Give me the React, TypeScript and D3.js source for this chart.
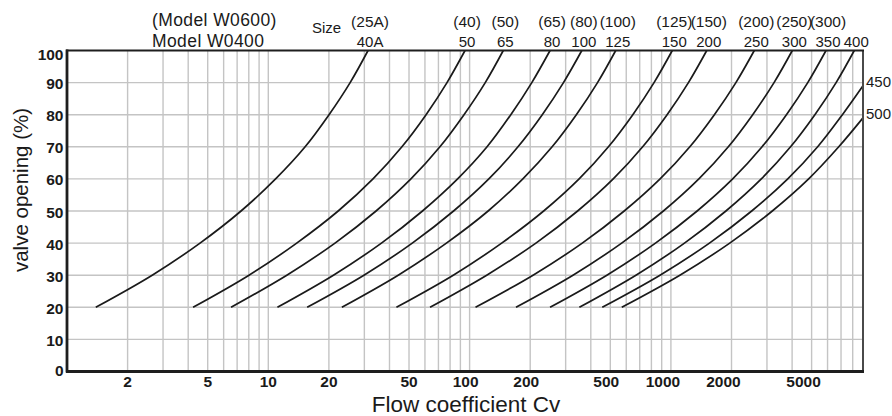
import React from "react";
import * as d3 from "d3";

// valve opening (%) at which each Cv value was read
const openings = [20, 30, 40, 50, 60, 70, 80, 90, 100];
const openings450 = [20, 30, 40, 50, 60, 70, 80, 89];
const openings500 = [20, 30, 40, 50, 60, 70, 79];

// size labels (Model W0400 / Model W0600)
const sizeW0400 = ["40A", "50", "65", "80", "100", "125", "150", "200", "250", "300", "350", "400", "450", "500"];
const sizeW0600 = ["(25A)", "(40)", "(50)", "(65)", "(80)", "(100)", "(125)", "(150)", "(200)", "(250)", "(300)", "", "", ""];

// Cv values
const cv40A = [1.39, 2.65, 4.58, 7.32, 10.87, 15.24, 20.03, 25.5, 31.3];
const cv50 = [4.23, 8.02, 13.84, 22.24, 33.12, 46.11, 60.77, 77.21, 94.9];
const cv65 = [6.53, 12.36, 21.45, 34.3, 51.11, 71.22, 93.79, 119.6, 147];
const cv80 = [11.1, 21.06, 36.48, 58.33, 87.2, 122.1, 160.2, 203.7, 251];
const cv100 = [15.6, 29.86, 51.9, 83.24, 124.6, 173.9, 229.6, 292.6, 361];
const cv125 = [23.2, 44.19, 76.71, 123.6, 183.9, 257.0, 339.0, 432.0, 532];
const cv150 = [43.3, 82.94, 144.3, 233.3, 350.0, 489.5, 646.8, 824.5, 1016];
const cv200 = [63.6, 121.6, 213.5, 344.0, 517.0, 724.0, 957.5, 1222, 1507];
const cv250 = [107, 206.6, 362.8, 586.2, 883.8, 1242, 1644, 2103, 2596];
const cv300 = [170, 326.2, 569.4, 917.4, 1377, 1929, 2549, 3253, 4010];
const cv350 = [251, 480.7, 838.3, 1350, 2027, 2837, 3749, 4784, 5895];
const cv400 = [351, 670.3, 1168, 1876, 2813, 3931, 5190, 6617, 8147];
const cv450 = [456, 882.9, 1554, 2520, 3807, 5359, 7111, 9000];
const cv500 = [570, 1108, 1960, 3189, 4834, 6821, 9000];

const xTickValues = [2, 5, 10, 20, 50, 100, 200, 500, 1000, 2000, 5000];
const yTickValues = [0, 10, 20, 30, 40, 50, 60, 70, 80, 90, 100];
const xGridValues = [
  2, 3, 4, 5, 6, 7, 8, 9, 10,
  20, 30, 40, 50, 60, 70, 80, 90, 100,
  200, 300, 400, 500, 600, 700, 800, 900, 1000,
  2000, 3000, 4000, 5000, 6000, 7000, 8000,
];

const seriesCv = [cv40A, cv50, cv65, cv80, cv100, cv125, cv150, cv200, cv250, cv300, cv350, cv400, cv450, cv500];
const seriesOpen = [openings, openings, openings, openings, openings, openings, openings, openings, openings, openings, openings, openings, openings450, openings500];

const W = 892;
const H = 416;
const L = 67, R = 863, T = 50.5, B = 371.5;

const NARROW = "'Liberation Sans Narrow', 'Arial Narrow', 'Liberation Sans', Arial, sans-serif";
const REG = "'Liberation Sans', Arial, Helvetica, sans-serif";

export default function App() {
  const x = d3.scaleLog().domain([1, 9000]).range([L, R]);
  const y = d3.scaleLinear().domain([0, 100]).range([B, T]);

  const line = d3
    .line<[number, number]>()
    .x((d) => x(d[0]))
    .y((d) => y(d[1]))
    .curve(d3.curveCatmullRom.alpha(0.5));

  const series = seriesCv.map((cvs, i) => ({
    w4: sizeW0400[i],
    w6: sizeW0600[i],
    pts: cvs.map((c, j) => [c, seriesOpen[i][j]] as [number, number]),
  }));

  const gridColor = "#c4c4c4";

  return (
    <svg
      width={W}
      height={H}
      style={{ position: "absolute", left: 0, top: 0, background: "#fff" }}
    >
      {/* gridlines */}
      {yTickValues.slice(1, -1).map((v) => (
        <line key={"gy" + v} x1={L} x2={R} y1={y(v)} y2={y(v)} stroke={gridColor} strokeWidth={1.4} />
      ))}
      {xGridValues.map((v) => (
        <line key={"gx" + v} x1={x(v)} x2={x(v)} y1={T} y2={B} stroke={gridColor} strokeWidth={1.4} />
      ))}

      {/* curves */}
      {series.map((s, i) => (
        <path key={"c" + i} d={line(s.pts) || ""} fill="none" stroke="#1a1a1a" strokeWidth={1.7} />
      ))}

      {/* frame */}
      <line x1={R} x2={R} y1={T} y2={B} stroke="#4a4a4a" strokeWidth={2} />
      <line x1={L - 1} x2={R + 1} y1={T} y2={T} stroke="#1e1e1e" strokeWidth={2.2} />
      <line x1={L} x2={L} y1={T - 1} y2={B + 1} stroke="#1e1e1e" strokeWidth={2.8} />
      <line x1={L - 1} x2={R + 1} y1={B} y2={B} stroke="#1e1e1e" strokeWidth={2.8} />

      {/* y tick labels */}
      {yTickValues.map((v) => (
        <text
          key={"yl" + v}
          x={63.5}
          y={y(v) + (v === 100 ? 4 : v === 0 ? -1 : 1)}
          dy="0.36em"
          textAnchor="end"
          fontFamily={NARROW}
          fontWeight="bold"
          fontSize={15.5}
          fill="#1a1a1a"
        >
          {v}
        </text>
      ))}

      {/* x tick labels */}
      {xTickValues.map((v) => {
        const len = String(v).length;
        const dx = len <= 2 ? 0 : -(len - 2) * 4;
        return (
          <text
            key={"xl" + v}
            x={x(v) + dx}
            y={387}
            textAnchor="middle"
            fontFamily={NARROW}
            fontWeight="bold"
            fontSize={15.5}
            fill="#1a1a1a"
          >
            {v}
          </text>
        );
      })}

      {/* axis titles */}
      <text x={466} y={412} textAnchor="middle" fontFamily={REG} fontSize={22.5} fill="#1a1a1a">
        Flow coefficient Cv
      </text>
      <text
        transform="translate(28,190) rotate(-90)"
        textAnchor="middle"
        fontFamily={REG}
        fontSize={20.5}
        fill="#1a1a1a"
      >
        valve opening (%)
      </text>

      {/* model labels */}
      <text x={152} y={26} fontFamily={REG} fontSize={17.5} letterSpacing={0.4} fill="#1a1a1a">
        (Model W0600)
      </text>
      <text x={152} y={46.5} fontFamily={REG} fontSize={17.5} letterSpacing={0.4} fill="#1a1a1a">
        Model W0400
      </text>
      <text x={312} y={33} fontFamily={REG} fontSize={15} fill="#1a1a1a">
        Size
      </text>

      {/* size labels at curve tops */}
      {series.map((s, i) => {
        const last = s.pts[s.pts.length - 1];
        if (last[1] >= 100) {
          const cx = x(last[0]) + 2;
          return (
            <g key={"lab" + i}>
              {s.w6 && (
                <text x={cx} y={27} textAnchor="middle" fontFamily={REG} fontSize={15.5} fill="#1a1a1a">
                  {s.w6}
                </text>
              )}
              <text x={cx} y={46.5} textAnchor="middle" fontFamily={REG} fontSize={15} fill="#1a1a1a">
                {s.w4}
              </text>
            </g>
          );
        }
        return (
          <text
            key={"lab" + i}
            x={866}
            y={y(last[1]) - 4}
            dy="0.36em"
            fontFamily={REG}
            fontSize={15}
            fill="#1a1a1a"
          >
            {s.w4}
          </text>
        );
      })}
    </svg>
  );
}
